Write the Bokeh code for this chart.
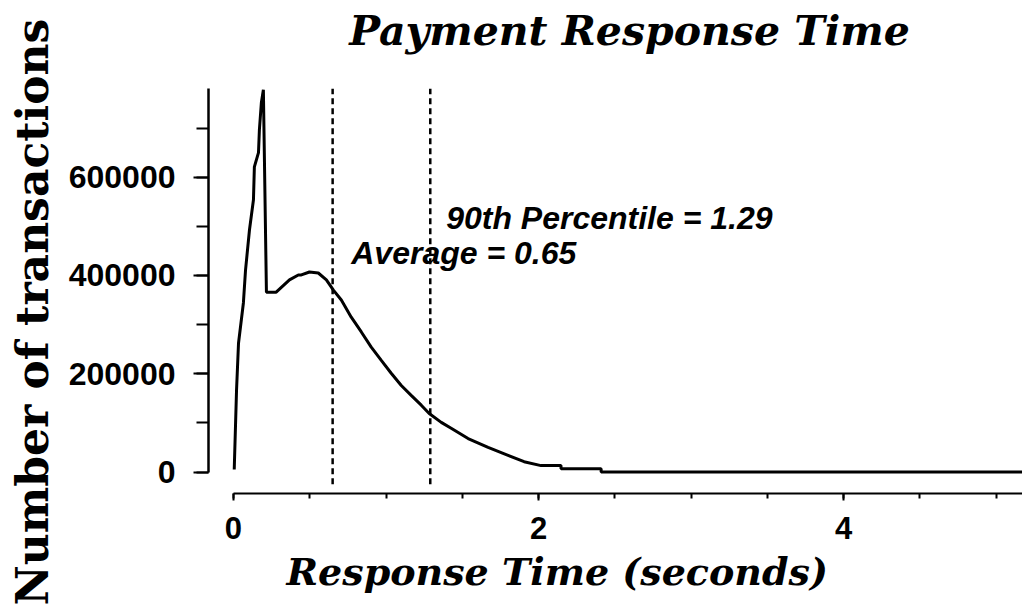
from bokeh.plotting import figure
from bokeh.models import Label, Range1d, SingleIntervalTicker, Title
from bokeh.embed import file_html
from bokeh.resources import INLINE

# ---- data ----
resp_time = [0.005, 0.02, 0.033, 0.065, 0.079, 0.105, 0.131, 0.137, 0.164, 0.17,
             0.183, 0.196, 0.216, 0.28, 0.367, 0.425, 0.445, 0.498, 0.556, 0.609,
             0.655, 0.707, 0.772, 0.838, 0.903, 0.969, 1.034, 1.1, 1.165, 1.231,
             1.283, 1.362, 1.427, 1.538, 1.669, 1.8, 1.905, 2.016, 2.147, 2.147,
             2.41, 2.41, 5.2]
transactions = [5000, 166000, 262000, 344000, 411000, 493000, 554000, 621000, 650000, 697000,
                752000, 778000, 366000, 366000, 391000, 401000, 401000, 407000, 405000, 391000,
                370000, 350000, 315000, 285000, 254000, 227000, 201000, 176000, 156000, 136000,
                119000, 101000, 89000, 68000, 50000, 34000, 21000, 13000, 13000, 6500,
                6500, 0, 0]
average = 0.65
percentile_90 = 1.29
marker_names = ["Average", "90th Percentile"]

serif = "DejaVu Serif"
tick_font = "Liberation Sans"

p = figure(width=1022, height=609, output_backend="svg", toolbar_location=None,
           x_range=Range1d(-0.1637, 5.172), y_range=Range1d(-43750, 959500),
           min_border_left=207, min_border_right=0, min_border_top=0, min_border_bottom=116)
p.outline_line_color = None
p.xgrid.visible = False
p.ygrid.visible = False
p.background_fill_color = "white"
p.border_fill_color = "white"

# x axis
xa = p.xaxis[0]
xa.ticker = SingleIntervalTicker(interval=2, num_minor_ticks=4)
xa.bounds = (0, 5.3)
xa.axis_line_width = 2
xa.major_tick_line_width = 2
xa.minor_tick_line_width = 2
xa.major_tick_out = 7
xa.major_tick_in = 0
xa.minor_tick_out = 5
xa.minor_tick_in = 0
xa.major_label_text_font = tick_font
xa.major_label_text_font_style = "bold"
xa.major_label_text_font_size = "31px"
xa.major_label_text_color = "black"
xa.major_label_standoff = 16

# y axis
ya = p.yaxis[0]
ya.ticker = SingleIntervalTicker(interval=200000, num_minor_ticks=2)
ya.bounds = (0, 780000)
ya.axis_line_width = 2.5
ya.major_tick_line_width = 2
ya.minor_tick_line_width = 2
ya.major_tick_out = 15
ya.major_tick_in = 0
ya.minor_tick_out = 12
ya.minor_tick_in = 0
ya.major_label_text_font = tick_font
ya.major_label_text_font_style = "bold"
ya.major_label_text_font_size = "32px"
ya.major_label_text_color = "black"
ya.major_label_standoff = 18
ya.formatter.use_scientific = False

# curve
p.line(resp_time, transactions, line_color="black", line_width=3)

# dashed markers
for xv in [average, percentile_90]:
    p.segment(x0=[xv], y0=[-25000], x1=[xv], y1=[780000],
              line_color="black", line_width=2.5, line_dash="6 4")

p.add_layout(Label(x=1.394, y=481000, text=f"{marker_names[1]} = {percentile_90}",
                   text_font=tick_font, text_font_style="bold italic",
                   text_font_size="32px", text_color="black"))
p.add_layout(Label(x=0.772, y=410000, text=f"{marker_names[0]} = {average}",
                   text_font=tick_font, text_font_style="bold italic",
                   text_font_size="32px", text_color="black"))

# chart title, inside the tall frame area above the data
p.add_layout(Label(x=421, y=439, x_units="screen", y_units="screen",
                   text="Payment Response Time", text_align="center",
                   text_font=serif, text_font_style="bold italic",
                   text_font_size="41px", text_color="black"))
p.add_layout(Title(text="Response Time (seconds)", align="left", offset=78,
                   text_font=serif, text_font_style="bold italic",
                   text_font_size="38px", text_color="black", standoff=10), "below")
p.add_layout(Title(text="Number of transactions", align="left", offset=-112,
                   vertical_align="top",
                   text_font=serif, text_font_style="bold",
                   text_font_size="44px", text_color="black", standoff=12), "left")

open("out.html", "w").write(file_html(p, INLINE))
